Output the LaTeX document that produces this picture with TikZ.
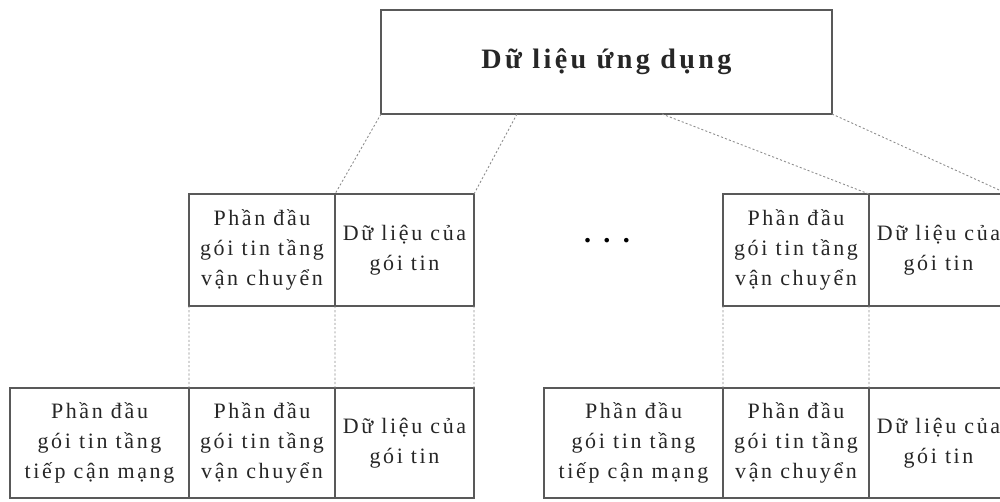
\documentclass[tikz,border=0pt]{standalone}
\usepackage{fontspec}
\setmainfont{Liberation Serif}[LetterSpace=12]
\usetikzlibrary{positioning}

\begin{document}
\begin{tikzpicture}[x=0.2mm, y=-0.2mm,
    box/.style={rectangle, draw=black!65, line width=0.8pt, outer sep=0pt, inner sep=0pt,
        align=center, text=black!85, font=\fontsize{12.5}{17}\selectfont, minimum height=2.24cm},
    link/.style={draw=black!45, line width=0.5pt, dash pattern=on 1.2pt off 1.2pt}]
    \useasboundingbox (0,0) rectangle (1000,501);
    \clip (0,0) rectangle (1000,501);
    \node [box, anchor=north west, minimum width=9.02cm, minimum height=2.08cm,
        font=\bfseries\fontsize{16}{18}\selectfont] (app) at (381,10) {Dữ liệu ứng dụng};
    \coordinate (s1) at (517,114);
    \coordinate (s2) at (662,114);
    \node [box, anchor=north west, minimum width=2.92cm] (tp1) at (189,194) {Phần đầu\\gói tin tầng\\vận chuyển};
    \node [box, right=0pt of tp1, minimum width=2.78cm] (pl1) {Dữ liệu của\\gói tin};
    \node [box, anchor=north west, minimum width=2.92cm] (tp2) at (723,194) {Phần đầu\\gói tin tầng\\vận chuyển};
    \node [box, right=0pt of tp2, minimum width=2.78cm] (pl2) {Dữ liệu của\\gói tin};
    \node [font=\bfseries\fontsize{16}{16}\selectfont, anchor=base] (dots) at (607,242) {.\hspace{7pt}.\hspace{7pt}.};
    \node [box, anchor=north west, minimum width=3.58cm, minimum height=2.2cm] (nw1) at (10,388) {Phần đầu\\gói tin tầng\\tiếp cận mạng};
    \node [box, right=0pt of nw1, minimum width=2.92cm, minimum height=2.2cm] (tq1) {Phần đầu\\gói tin tầng\\vận chuyển};
    \node [box, right=0pt of tq1, minimum width=2.78cm, minimum height=2.2cm] (pq1) {Dữ liệu của\\gói tin};
    \node [box, anchor=north west, minimum width=3.58cm, minimum height=2.2cm] (nw2) at (544,388) {Phần đầu\\gói tin tầng\\tiếp cận mạng};
    \node [box, right=0pt of nw2, minimum width=2.92cm, minimum height=2.2cm] (tq2) {Phần đầu\\gói tin tầng\\vận chuyển};
    \node [box, right=0pt of tq2, minimum width=2.78cm, minimum height=2.2cm] (pq2) {Dữ liệu của\\gói tin};
    \draw [link] (app.south west) -- (tp1.north east);
    \draw [link] (s1) -- (pl1.north east);
    \draw [link] (s2) -- (tp2.north east);
    \draw [link] (app.south east) -- (pl2.north east);
    \foreach \i in {1,2} {
        \draw [link] (tp\i.south west) -- (tq\i.north west);
        \draw [link] (tp\i.south east) -- (tq\i.north east);
        \draw [link] (pl\i.south east) -- (pq\i.north east);
    }
\end{tikzpicture}
\end{document}
